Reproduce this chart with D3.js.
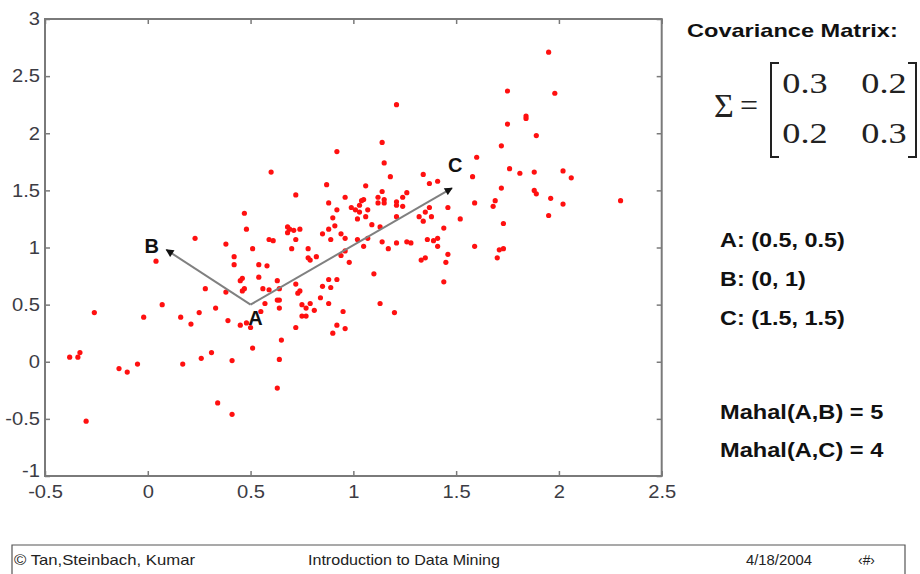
<!DOCTYPE html>
<html>
<head>
<meta charset="utf-8">
<script src="https://cdn.jsdelivr.net/npm/d3@7"></script>
<style>
  html, body { margin: 0; padding: 0; background: #fff; }
  svg { display: block; font-family: Arial, "Liberation Sans", sans-serif; }
</style>
</head>
<body>
<div id="chart"></div>
<script>
// axis ticks
const xTicks = [-0.5, 0, 0.5, 1, 1.5, 2, 2.5];
const yTicks = [-1, -0.5, 0, 0.5, 1, 1.5, 2, 2.5, 3];

// scatter samples [x, y]
const samples = [
  [1.21,2.25],[1.95,2.71],[1.75,2.37],[1.98,2.35],[1.84,2.15],[1.84,2.13],[1.75,2.08],[1.89,1.98],
  [1.72,1.89],[1.60,1.79],[1.76,1.69],[1.81,1.65],[1.88,1.66],[2.02,1.67],[2.06,1.61],[1.58,1.62],
  [1.72,1.52],[1.88,1.50],[1.89,1.47],[1.96,1.43],[2.02,1.38],[2.30,1.41],[1.59,1.39],[1.69,1.41],
  [1.68,1.36],[1.95,1.28],[1.73,1.21],[1.59,1.01],[1.71,0.98],[1.73,0.99],[1.70,0.91],
  [1.14,1.92],[1.15,1.74],[1.18,1.62],[1.34,1.64],[1.37,1.56],[1.41,1.58],[1.06,1.54],[1.14,1.49],
  [1.26,1.48],[1.12,1.44],[1.15,1.42],[1.24,1.44],[1.04,1.41],[1.05,1.42],[1.12,1.39],[1.15,1.39],
  [1.21,1.40],[1.21,1.37],[1.24,1.36],[1.07,1.33],[1.06,1.27],[1.21,1.27],[1.32,1.27],[1.35,1.31],
  [1.37,1.35],[1.38,1.27],[1.34,1.23],[1.46,1.35],[1.52,1.25],[1.09,1.20],[1.13,1.18],[1.44,1.17],
  [1.07,1.08],[1.14,1.05],[1.21,1.04],[1.26,1.05],[1.28,1.04],[1.36,1.07],[1.39,1.06],[1.41,1.08],
  [1.41,1.01],[1.05,1.01],[1.17,0.99],[1.33,0.89],[1.35,0.91],[1.46,0.94],[1.45,0.87],[1.10,0.77],
  [1.44,0.70],[1.13,0.51],[1.20,0.43],
  [0.92,1.84],[0.60,1.66],[0.87,1.55],[0.72,1.46],[0.96,1.44],[0.88,1.39],[0.99,1.35],[1.01,1.33],
  [0.92,1.33],[1.03,1.31],[0.90,1.26],[1.02,1.25],[0.68,1.18],[0.69,1.16],[0.71,1.15],[0.74,1.16],
  [0.68,1.13],[0.88,1.16],[0.91,1.19],[0.89,1.07],[0.85,1.12],[0.94,1.12],[0.96,1.08],[1.02,1.07],
  [0.72,1.07],[0.59,1.07],[0.61,1.06],[0.70,0.99],[0.78,0.99],[0.78,0.91],[0.79,0.89],[0.82,0.92],
  [0.96,0.97],[0.94,0.93],[0.98,0.87],[0.54,0.85],[0.58,0.84],[0.54,0.74],[0.63,0.71],[0.72,0.68],
  [0.56,0.64],[0.59,0.63],[0.64,0.64],[0.74,0.62],[0.73,0.60],[0.85,0.66],[0.88,0.72],[0.92,0.72],
  [0.89,0.65],[0.84,0.56],[0.63,0.54],[0.64,0.54],[0.57,0.51],[0.88,0.51],[0.64,0.47],[0.75,0.50],
  [0.77,0.47],[0.79,0.51],[0.81,0.45],[0.95,0.44],[0.75,0.40],[0.77,0.40],[0.72,0.30],[0.92,0.32],
  [0.96,0.29],[0.90,0.25],[0.65,0.19],[0.64,0.02],[0.55,0.44],[1.03,1.37],
  [0.47,1.30],[0.48,1.16],[0.23,1.08],[0.38,1.03],[0.51,0.99],[0.04,0.88],[0.42,0.92],[0.42,0.85],
  [0.46,0.73],[0.45,0.71],[0.28,0.64],[0.38,0.61],[0.47,0.64],[0.46,0.62],[0.07,0.50],[0.16,0.39],
  [0.25,0.43],[0.33,0.47],[0.21,0.33],[0.39,0.36],[0.45,0.32],[0.48,0.34],[0.50,0.30],[0.51,0.12],
  [0.26,0.03],[0.31,0.08],[0.41,0.01],[0.17,-0.02],
  [-0.26,0.43],[-0.02,0.39],[-0.38,0.04],[-0.34,0.04],[-0.33,0.08],[-0.30,-0.52],[-0.14,-0.06],
  [-0.10,-0.09],[-0.05,-0.02],[0.34,-0.36],[0.41,-0.46],[0.63,-0.23]
];

// the three reference points and where the arrows stop
const refNames = ["A", "B", "C"];
const refX = [0.5, 0, 1.5];
const refY = [0.5, 1, 1.5];
const arrowTips = [[0.09, 0.98], [1.48, 1.52]];   // A->B, A->C

// side panel text
const covMatrix = [[0.3, 0.2], [0.2, 0.3]];
const coordLines = ["A: (0.5, 0.5)", "B: (0, 1)", "C: (1.5, 1.5)"];
const mahalLines = ["Mahal(A,B) = 5", "Mahal(A,C) = 4"];
const footerTexts = ["\u00A9 Tan,Steinbach,  Kumar", "Introduction  to Data Mining", "4/18/2004", "\u2039#\u203A"];

const W = 920, H = 574;
const svg = d3.select("#chart").append("svg")
    .attr("width", W)
    .attr("height", H);

const x = d3.scaleLinear().domain([-0.5, 2.5]).range([45, 661.7]);
const y = d3.scaleLinear().domain([-1, 3]).range([476, 19]);

const axisColor = "#7a7a7a";
const labelColor = "#3c3c44";

// the slide was stretched sideways, so widen the text to match
function widen(sel, k) {
    sel.each(function() {
        const len = this.getComputedTextLength();
        d3.select(this)
            .attr("textLength", len * k)
            .attr("lengthAdjust", "spacingAndGlyphs");
    });
}

// frame
svg.append("rect")
    .attr("x", x(-0.5)).attr("y", y(3))
    .attr("width", x(2.5) - x(-0.5))
    .attr("height", y(-1) - y(3))
    .attr("fill", "none")
    .attr("stroke", axisColor)
    .attr("stroke-width", 2);

function styleAxis(g, showLabels) {
    g.select(".domain").remove();
    g.selectAll(".tick line").attr("stroke", axisColor).attr("stroke-width", 1.5);
    g.selectAll(".tick text")
        .attr("fill", labelColor)
        .attr("font-size", 18)
        .attr("font-family", "Arial, 'Liberation Sans', sans-serif");
    if (!showLabels) g.selectAll(".tick text").remove();
    else widen(g.selectAll(".tick text"), 1.12);
}

const fmt = d => String(d);

svg.append("g")
    .attr("transform", `translate(0,${y(-1)})`)
    .call(d3.axisBottom(x).tickValues(xTicks).tickSize(-5).tickPadding(9).tickFormat(fmt))
    .call(g => styleAxis(g, true));

svg.append("g")
    .attr("transform", `translate(0,${y(3)})`)
    .call(d3.axisTop(x).tickValues(xTicks).tickSize(-5))
    .call(g => styleAxis(g, false));

svg.append("g")
    .attr("transform", `translate(${x(-0.5)},0)`)
    .call(d3.axisLeft(y).tickValues(yTicks).tickSize(-5).tickPadding(5).tickFormat(fmt))
    .call(g => styleAxis(g, true))
    // lift the corner label a little so it clears the -0.5 below it
    .call(g => g.selectAll(".tick text").filter(d => d === -1).attr("y", -5));

svg.append("g")
    .attr("transform", `translate(${x(2.5)},0)`)
    .call(d3.axisRight(y).tickValues(yTicks).tickSize(-5))
    .call(g => styleAxis(g, false));

// scatter
svg.append("g")
    .selectAll("circle")
    .data(samples)
    .join("circle")
    .attr("cx", d => x(d[0]))
    .attr("cy", d => y(d[1]))
    .attr("r", 2.6)
    .attr("fill", "#ff1010");

// arrows
svg.append("defs").append("marker")
    .attr("id", "head")
    .attr("viewBox", "0 0 10 10")
    .attr("refX", 9).attr("refY", 5)
    .attr("markerWidth", 10).attr("markerHeight", 8)
    .attr("markerUnits", "userSpaceOnUse")
    .attr("orient", "auto")
    .append("path")
    .attr("d", "M0,0 L10,5 L0,10 Z")
    .attr("fill", "#111");

svg.append("g")
    .selectAll("line")
    .data(arrowTips)
    .join("line")
    .attr("x1", x(refX[0])).attr("y1", y(refY[0]))
    .attr("x2", d => x(d[0])).attr("y2", d => y(d[1]))
    .attr("stroke", "#808080")
    .attr("stroke-width", 2)
    .attr("marker-end", "url(#head)");

// point letters (pixel nudges from each point)
const labelNudge = [[5, 20], [4, 5], [-1, -18]];
svg.append("g")
    .selectAll("text")
    .data(refNames)
    .join("text")
    .attr("x", (d, i) => x(refX[i]) + labelNudge[i][0])
    .attr("y", (d, i) => y(refY[i]) + labelNudge[i][1])
    .attr("text-anchor", "middle")
    .attr("font-size", 20)
    .attr("font-weight", "bold")
    .attr("fill", "#111")
    .text(d => d);

// side panel
const panel = svg.append("g");

panel.append("text")
    .attr("x", 687).attr("y", 37)
    .attr("font-size", 19)
    .attr("font-weight", "bold")
    .attr("fill", "#111")
    .text("Covariance Matrix:")
    .call(t => widen(t, 1.24));

const serif = "'Liberation Serif', 'Times New Roman', serif";
panel.append("text")
    .attr("x", 714).attr("y", 117)
    .attr("font-family", serif)
    .attr("font-size", 34)
    .attr("fill", "#222")
    .text("\u03A3");
panel.append("text")
    .attr("x", 740).attr("y", 116)
    .attr("font-family", serif)
    .attr("font-size", 32)
    .attr("fill", "#222")
    .text("=");

// brackets
const bTop = 63, bBot = 157, serifLen = 8;
panel.append("path")
    .attr("d", `M${771 + serifLen},${bTop} H771 V${bBot} H${771 + serifLen}`)
    .attr("fill", "none").attr("stroke", "#222").attr("stroke-width", 2);
panel.append("path")
    .attr("d", `M${916 - serifLen},${bTop} H916 V${bBot} H${916 - serifLen}`)
    .attr("fill", "none").attr("stroke", "#222").attr("stroke-width", 2);

const cellX = [805, 884], cellY = [93, 143];
covMatrix.forEach((row, r) => {
    row.forEach((v, c) => {
        panel.append("text")
            .attr("x", cellX[c]).attr("y", cellY[r])
            .attr("text-anchor", "middle")
            .attr("font-family", serif)
            .attr("font-size", 29)
            .attr("fill", "#222")
            .text(v.toFixed(1))
            .call(t => widen(t, 1.25));
    });
});

panel.selectAll("text.coord")
    .data(coordLines)
    .join("text")
    .attr("class", "coord")
    .attr("x", 720)
    .attr("y", (d, i) => 247 + i * 39)
    .attr("font-size", 20)
    .attr("font-weight", "bold")
    .attr("fill", "#111")
    .text(d => d)
    .call(t => widen(t, 1.17));

panel.selectAll("text.mahal")
    .data(mahalLines)
    .join("text")
    .attr("class", "mahal")
    .attr("x", 720)
    .attr("y", (d, i) => 419 + i * 38)
    .attr("font-size", 20)
    .attr("font-weight", "bold")
    .attr("fill", "#111")
    .text(d => d)
    .call(t => widen(t, 1.18));

// footer
svg.append("path")
    .attr("d", "M12,574 V545 H905 V574")
    .attr("fill", "none")
    .attr("stroke", "#555")
    .attr("stroke-width", 1.2);

const footerX = [14, 308, 746, 858];
const footerW = [181, 192, 66, 17];
svg.append("g")
    .selectAll("text")
    .data(footerTexts)
    .join("text")
    .attr("x", (d, i) => footerX[i])
    .attr("y", 565)
    .attr("font-size", 15)
    .attr("fill", "#222")
    .attr("textLength", (d, i) => footerW[i])
    .attr("lengthAdjust", "spacingAndGlyphs")
    .text(d => d);
</script>
</body>
</html>
